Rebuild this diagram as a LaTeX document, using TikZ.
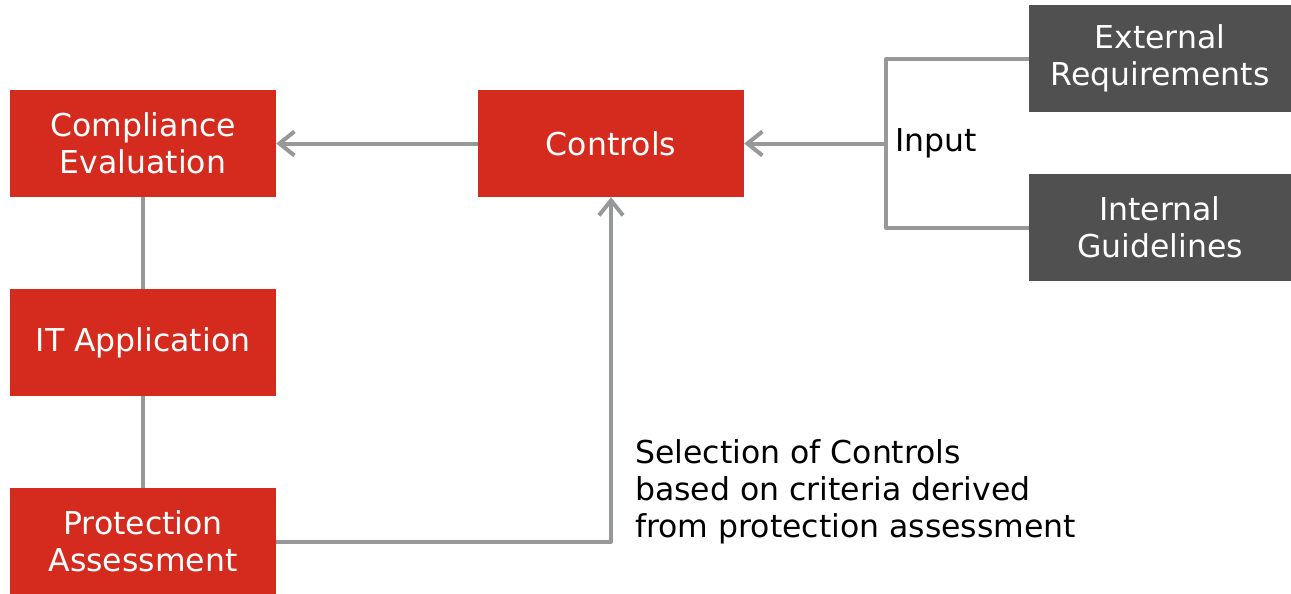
\documentclass[tikz,border=0pt]{standalone}
\usepackage{fontspec}
\setmainfont{DejaVu Sans}
\usetikzlibrary{arrows.meta}
\definecolor{boxred}{RGB}{213,43,30}
\definecolor{boxgray}{RGB}{80,80,80}
\definecolor{linegray}{RGB}{151,152,154}
\begin{document}
\begin{tikzpicture}[x=1pt,y=-1pt,
  redbox/.style={fill=boxred,draw=none,text=white,minimum width=266pt,minimum height=107pt,inner sep=0pt,align=center,font=\fontsize{31.5}{37}\selectfont},
  graybox/.style={fill=boxgray,draw=none,text=white,minimum width=262pt,minimum height=107pt,inner sep=0pt,align=center,font=\fontsize{31.5}{37}\selectfont},
  conn/.style={draw=linegray,line width=4pt},
  arr/.style={conn,-{Straight Barb[length=15pt,width=24pt]}},
  lbl/.style={text=black,font=\fontsize{31.5}{37}\selectfont,inner sep=0pt}]
\useasboundingbox (0,0) rectangle (1291,594);
\node[redbox] (comp) at (143,143.5) {Compliance\\Evaluation};
\node[redbox] (itapp) at (143,342.5) {IT Application};
\node[redbox] (prot) at (143,541.5) {Protection\\Assessment};
\node[redbox] (ctrl) at (611,143.5) {Controls};
\node[graybox] (ext) at (1160,58.5) {External\\Requirements};
\node[graybox] (int) at (1160,227.5) {Internal\\Guidelines};
\coordinate (inp) at (886,143.5);
\coordinate (brt) at (886,59);
\coordinate (brb) at (886,228);
\coordinate (corner) at (611,542);
\draw[conn,line join=round] (ext.west |- brt) -- (brt) -- (brb) -- (int.west |- brb);
\draw[arr] (inp) -- (ctrl.east);
\draw[arr] (ctrl.west) -- (comp.east);
\draw[conn] (comp.south) -- (itapp.north);
\draw[conn] (itapp.south) -- (prot.north);
\draw[arr,line join=round] (prot.east |- corner) -- (corner) -- (ctrl.south);
\node[lbl,anchor=west] (inlbl) at (895,143) {Input};
\node[lbl,anchor=north west,align=left] (sel) at (635,439) {Selection of Controls\\based on criteria derived\\from protection assessment};
\end{tikzpicture}
\end{document}
